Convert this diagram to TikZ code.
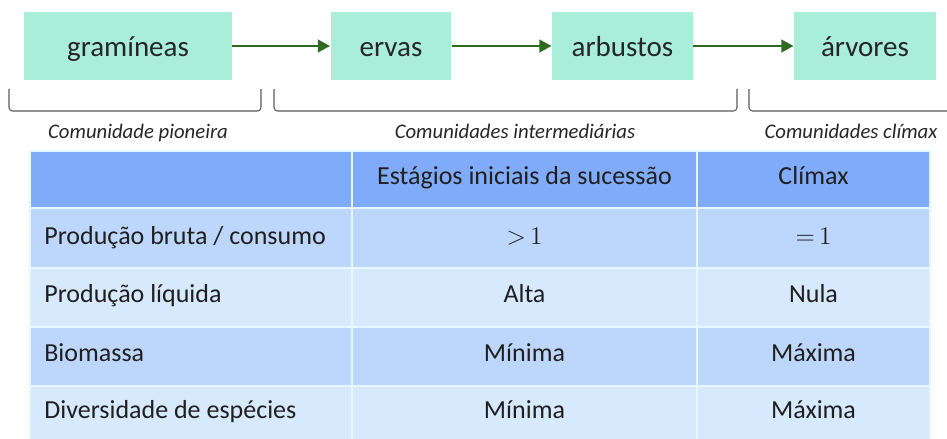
\documentclass[tikz,border=0pt]{standalone}
\usepackage{fontspec}
\setmainfont{Carlito}
\usetikzlibrary{arrows.meta}
\usetikzlibrary{positioning}

\definecolor{stagegreen}{HTML}{A8EED8}
\definecolor{arrowgreen}{HTML}{2E6B1E}
\definecolor{headblue}{HTML}{80ABFB}
\definecolor{rowdark}{HTML}{BCD7FB}
\definecolor{rowlight}{HTML}{D6E9FD}
\definecolor{gridcyan}{HTML}{E4F9FF}
\definecolor{inkgray}{HTML}{5A5A5A}

\tikzset{
  stage/.style={rectangle, fill=stagegreen, minimum height=1.36cm, inner sep=0pt},
  stagetext/.style={anchor=base, inner sep=0pt, text=black!85, font=\fontsize{16.5}{19}\selectfont},
  succ/.style={draw=arrowgreen, line width=1.7pt, -{Triangle[length=7pt, width=7pt]}},
  brace/.style={draw=inkgray, line width=0.6pt, rounded corners=2pt},
  group/.style={anchor=base, inner sep=0pt, font=\itshape\fontsize{11.8}{14}\selectfont, text=black!85},
  cell/.style={draw=gridcyan, line width=1.1pt},
  celltext/.style={anchor=base, font=\fontsize{14.8}{17}\selectfont, text=black!88, inner sep=0pt}
}

\begin{document}
\begin{tikzpicture}[x=0.02cm, y=-0.02cm]

\useasboundingbox (0,0) rectangle (947,439);

% succession stages
\node[stage, minimum width=4.16cm] (gram) at (128,46) {};
\node[stage, minimum width=2.42cm] (ervas) at (391,46) {};
\node[stage, minimum width=2.82cm] (arb) at (622.5,46) {};
\node[stage, minimum width=2.84cm] (arv) at (865,46) {};

\node[stagetext] (gramtxt) at (128,57) {gramíneas};
\node[stagetext] (ervastxt) at (391,57) {ervas};
\node[stagetext] (arbtxt) at (622.5,57) {arbustos};
\node[stagetext] (arvtxt) at (865,57) {árvores};

\draw[succ] (gram) -- (ervas);
\draw[succ] (ervas) -- (arb);
\draw[succ] (arb) -- (arv);

% brackets under the stages
\draw[brace] (9,89) -- (9,111) -- (261,111) -- (261,89);
\draw[brace] (274,89) -- (274,111) -- (737,111) -- (737,89);
\draw[brace] (749,89) -- (749,111) -- (950,111);

\node[group] (pion) at (138,138) {Comunidade pioneira};
\node[group] (inter) at (515,138) {Comunidades intermediárias};
\node[group] (clim) at (851,138) {Comunidades clímax};

% table cells
\foreach \ya/\yb/\col in {151/208/headblue, 208/268/rowdark, 268/327/rowlight, 327/386/rowdark, 386/441/rowlight}{
  \foreach \xa/\xb in {30/352, 352/697, 697/930}
    \filldraw[cell, fill=\col] (\xa,\ya) rectangle (\xb,\yb);
}

% header
\node[celltext] (hini) at (524.5,185) {Estágios iniciais da sucessão};
\node[celltext] (hcli) at (813.5,185) {Clímax};

% rows
\node[celltext, anchor=base west] (r1) at (44,244) {Produção bruta / consumo};
\node[celltext] (r1ini) at (524.5,244) {${>}\,1$};
\node[celltext] (r1cli) at (813.5,244) {${=}\,1$};

\node[celltext, anchor=base west] (r2) at (44,302) {Produção líquida};
\node[celltext] (r2ini) at (524.5,302) {Alta};
\node[celltext] (r2cli) at (813.5,302) {Nula};

\node[celltext, anchor=base west] (r3) at (44,361) {Biomassa};
\node[celltext] (r3ini) at (524.5,361) {Mínima};
\node[celltext] (r3cli) at (813.5,361) {Máxima};

\node[celltext, anchor=base west] (r4) at (44,418) {Diversidade de espécies};
\node[celltext] (r4ini) at (524.5,418) {Mínima};
\node[celltext] (r4cli) at (813.5,418) {Máxima};

\end{tikzpicture}
\end{document}
